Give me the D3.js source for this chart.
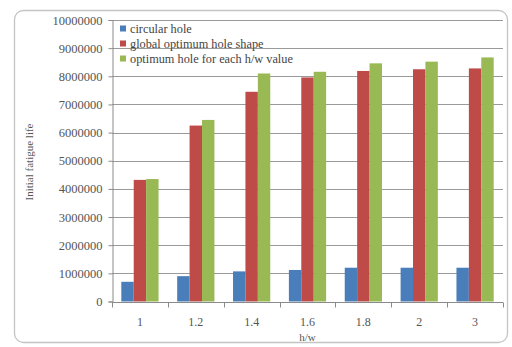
<!DOCTYPE html>
<html>
<head>
<meta charset="utf-8">
<script src="https://cdnjs.cloudflare.com/ajax/libs/d3/7.8.5/d3.min.js"></script>
<style>
  html, body { margin: 0; padding: 0; background: #fff; }
  svg { display: block; }
</style>
</head>
<body>
<svg id="chart" width="512" height="347"></svg>
<script>
// h/w ratios along the category axis
const categories = ["1", "1.2", "1.4", "1.6", "1.8", "2", "3"];
// initial fatigue life per hole design
const circularHole     = [700000, 900000, 1070000, 1120000, 1200000, 1200000, 1200000];
const globalOptimum    = [4320000, 6250000, 7450000, 7960000, 8190000, 8250000, 8280000];
const optimumPerRatio  = [4350000, 6450000, 8100000, 8160000, 8460000, 8520000, 8670000];
const seriesNames = ["circular hole", "global optimum hole shape", "optimum hole for each h/w value"];
const yTicks = [0, 1000000, 2000000, 3000000, 4000000, 5000000, 6000000, 7000000, 8000000, 9000000, 10000000];

const colors = ["#4A7EBB", "#BE4B48", "#98B954"];
const series = [circularHole, globalOptimum, optimumPerRatio];
const FONT = "'Liberation Serif', 'Times New Roman', serif";

const svg = d3.select("#chart");

// outer chart frame
svg.append("rect")
  .attr("x", 14.5).attr("y", 10.5)
  .attr("width", 493).attr("height", 332)
  .attr("rx", 9).attr("ry", 9)
  .attr("fill", "#fff")
  .attr("stroke", "#c4c4c4").attr("stroke-width", 1.3);

const plot = { left: 112, right: 503, top: 20, bottom: 301.5 };

const x = d3.scaleBand().domain(categories)
  .range([plot.left, plot.right]).paddingInner(0).paddingOuter(0);
// three bars per group, 150% gap between groups
const barW = x.bandwidth() / 4.5;
const xs = d3.scaleBand().domain(d3.range(3))
  .range([barW * 0.75, barW * 3.75]).padding(0);

const y = d3.scaleLinear().domain([0, 10000000]).range([plot.bottom, plot.top]);

// horizontal gridlines
svg.append("g").selectAll("line").data(yTicks.slice(1)).join("line")
  .attr("x1", plot.left).attr("x2", plot.right)
  .attr("y1", d => Math.round(y(d)) + 0.5).attr("y2", d => Math.round(y(d)) + 0.5)
  .attr("stroke", "#9a9a9a").attr("stroke-width", 1);

// y axis
const yAxis = d3.axisLeft(y).tickValues(yTicks).tickFormat(d3.format("d")).tickSize(4).tickPadding(6);
const gy = svg.append("g").attr("transform", `translate(${plot.left + 0.5},0)`).call(yAxis);
gy.attr("font-family", null).attr("font-size", null);
gy.select(".domain").attr("stroke", "#8a8a8a");
gy.selectAll(".tick line").attr("stroke", "#8a8a8a");
gy.selectAll(".tick text")
  .style("font-family", FONT).style("font-size", "12.5px")
  .attr("x", -10)
  .attr("fill", "#555");

// bars
const groups = svg.append("g").selectAll("g").data(series).join("g")
  .attr("fill", (d, i) => colors[i]);
groups.each(function (vals, si) {
  d3.select(this).selectAll("rect").data(vals).join("rect")
    .attr("x", (d, i) => x(categories[i]) + xs(si))
    .attr("width", xs.bandwidth())
    .attr("y", d => y(d))
    .attr("height", d => plot.bottom - y(d));
});

// x axis with ticks at group boundaries
const gx = svg.append("g").attr("transform", `translate(0,${Math.round(plot.bottom) + 0.5})`);
gx.append("line").attr("x1", plot.left).attr("x2", plot.right).attr("stroke", "#8a8a8a");
const boundaries = categories.map(c => x(c)).concat([plot.right]);
gx.selectAll("line.tk").data(boundaries).join("line").attr("class", "tk")
  .attr("x1", d => Math.round(d) + 0.5).attr("x2", d => Math.round(d) + 0.5)
  .attr("y1", 0).attr("y2", 5).attr("stroke", "#8a8a8a");
gx.selectAll("text").data(categories).join("text")
  .attr("x", d => x(d) + x.bandwidth() / 2)
  .attr("y", 23)
  .attr("text-anchor", "middle")
  .style("font-family", FONT).style("font-size", "12px")
  .attr("fill", "#555")
  .text(d => d);

// axis titles
svg.append("text")
  .attr("x", (plot.left + plot.right) / 2).attr("y", 341)
  .attr("text-anchor", "middle")
  .style("font-family", FONT).style("font-size", "11px")
  .attr("fill", "#555")
  .text("h/w");
svg.append("text")
  .attr("transform", "translate(33,162) rotate(-90)")
  .attr("text-anchor", "middle")
  .style("font-family", FONT).style("font-size", "11px")
  .attr("fill", "#555")
  .text("Initial fatigue life");

// legend
const legend = svg.append("g").attr("transform", "translate(120,29)");
const items = legend.selectAll("g").data(seriesNames).join("g")
  .attr("transform", (d, i) => `translate(0,${i * 15})`);
items.append("rect").attr("x", 0).attr("y", -3.5).attr("width", 6).attr("height", 6)
  .attr("fill", (d, i) => colors[i]);
items.append("text").attr("x", 10).attr("y", 4)
  .style("font-family", FONT).style("font-size", "12.3px")
  .attr("fill", "#444")
  .text(d => d);
</script>
</body>
</html>
